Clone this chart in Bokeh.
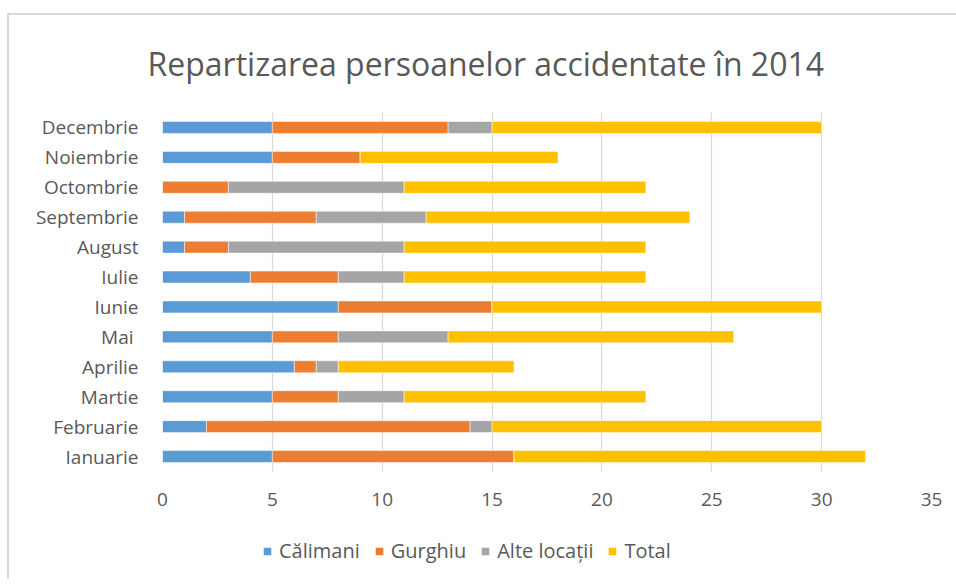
from bokeh.plotting import figure
from bokeh.layouts import column
from bokeh.models import FixedTicker, Legend, LegendItem, FactorRange, Range1d
from bokeh.embed import file_html
from bokeh.resources import INLINE

months = ["Ianuarie", "Februarie", "Martie", "Aprilie", "Mai ", "Iunie", "Iulie",
          "August", "Septembrie", "Octombrie", "Noiembrie", "Decembrie"]
calimani = [5, 2, 5, 6, 5, 8, 4, 1, 1, 0, 5, 5]
gurghiu = [11, 12, 3, 1, 3, 7, 4, 2, 6, 3, 4, 8]
alte = [0, 1, 3, 1, 5, 0, 3, 8, 5, 8, 0, 2]
total = [16, 15, 11, 8, 13, 15, 11, 11, 12, 11, 9, 15]
series = ["Călimani", "Gurghiu", "Alte locații", "Total"]
colors = ["#5B9BD5", "#ED7D31", "#A5A5A5", "#FFC000"]
x_ticks = [0, 5, 10, 15, 20, 25, 30, 35]

data = {"month": months, "Călimani": calimani, "Gurghiu": gurghiu,
        "Alte locații": alte, "Total": total}

FONT = "Open Sans"
GREY = "#595959"

p = figure(frame_width=767, frame_height=357, y_range=FactorRange(*months),
           x_range=Range1d(0, 35), output_backend="svg", toolbar_location=None,
           min_border_left=153, min_border_right=27, min_border_top=97,
           min_border_bottom=50)
p.styles = {"border-left": "2px solid #d9d9d9", "border-top": "2px solid #d9d9d9",
            "margin-top": "13px", "margin-left": "7px"}

renderers = p.hbar_stack(series, y="month", height=0.4, color=colors,
                         line_color="white", line_width=0.5, source=data)

p.title.text = "Repartizarea persoanelor accidentate în 2014"
p.title.text_font = FONT
p.title.text_font_size = "32px"
p.title.text_font_style = "normal"
p.title.text_color = GREY
p.title.align = "left"
p.title.vertical_align = "top"
p.title.offset = -15
p.title.standoff = 52

p.outline_line_color = None
p.ygrid.grid_line_color = None
p.xgrid.grid_line_color = "#d9d9d9"
p.xgrid.grid_line_width = 1.2
p.xaxis.ticker = FixedTicker(ticks=x_ticks)

for ax in (p.xaxis[0], p.yaxis[0]):
    ax.axis_line_color = None
    ax.major_tick_line_color = None
    ax.minor_tick_line_color = None
    ax.major_label_text_font = FONT
    ax.major_label_text_font_size = "19px"
    ax.major_label_text_color = GREY
p.yaxis.major_label_standoff = 18
p.xaxis.major_label_standoff = 15

# legend strip below the chart (same series and colours, renderers hidden)
lg = figure(width=946, height=60, x_range=Range1d(0, 35), y_range=FactorRange(*months),
            output_backend="svg", toolbar_location=None,
            x_axis_location=None, y_axis_location=None,
            min_border=0)
lg.styles = {"border-left": "2px solid #d9d9d9", "margin-left": "7px"}
lg.outline_line_color = None
lg.xgrid.visible = False
lg.ygrid.visible = False
key_renderers = lg.hbar_stack(series, y="month", height=0.4, color=colors,
                              line_color="white", line_width=0.5, source=data)
for r in key_renderers:
    r.visible = False

legend = Legend(items=[LegendItem(label=s, renderers=[r]) for s, r in zip(series, key_renderers)],
                orientation="horizontal", location=(100, 15), margin=0, padding=6,
                label_text_font=FONT, label_text_font_size="20px",
                label_text_color=GREY, glyph_width=10, glyph_height=10,
                spacing=14, label_standoff=7, border_line_color=None,
                background_fill_alpha=0, inactive_fill_alpha=0)
lg.add_layout(legend, "center")

layout = column(p, lg, spacing=0)
open("out.html", "w").write(file_html(layout, INLINE))
